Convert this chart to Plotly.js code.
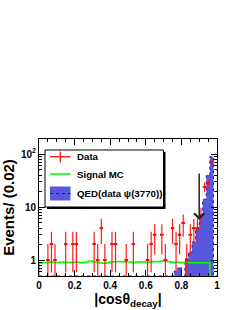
<!DOCTYPE html>
<html>
<head>
<meta charset="utf-8">
<script src="https://cdn.plot.ly/plotly-3.0.1.min.js"></script>
<style>
html,body{margin:0;padding:0;background:#fff;}
#chart{width:240px;height:310px;}
</style>
</head>
<body>
<div id="chart"></div>
<script>
// ---- data ----
const binWidth = 0.02;
// Data (bin centres with entries) and counts
const dataX = [0.05,0.07,0.09,0.15,0.19,0.21,0.31,0.33,0.35,0.37,0.41,0.43,0.49,0.53,0.61,0.63,0.65,0.69,0.71,0.75,0.77,0.79,0.81,0.83,0.85,0.87,0.89,0.91,0.93,0.95,0.97];
const dataY = [1,2,1,2,2,2,2,1,4,1,2,2,1,2,1,2,3,3,1,4,2,3,5,1,3,4,4,7,24,28,69];
// Signal MC histogram: 50 bins from 0 to 1
const signalMC = [0.88,0.9,0.9,0.92,0.9,0.9,0.92,0.9,0.91,0.9,
                  0.92,0.9,0.89,0.92,0.96,0.92,0.9,0.88,0.87,0.9,
                  0.92,0.93,0.94,0.93,0.92,0.92,0.9,0.91,0.93,0.92,
                  0.9,0.92,0.94,0.93,0.95,0.98,0.93,0.91,0.9,0.91,
                  0.9,0.9,0.89,0.89,0.89,0.89,0.89,0.89,0,0];
// QED (data psi(3770)) histogram: 50 bins from 0 to 1
const qedMC = [0,0,0,0,0,0,0,0,0,0,
               0,0,0,0,0,0,0,0,0,0,
               0,0,0,0,0,0,0,0,0,0,
               0,0,0,0,0,0,0,0,0.62,0.72,
               0,1.05,1.4,2.2,3.9,6.5,14,40,89,0];
// cut arrow
const cutX = [0.9];
const arrowY = [46, 5.7];
// tick labels
const yTickVals = [1,10,100];
const yTickText = ['1','10','10<sup>2</sup>'];
const legendLabels = ['Data','Signal MC','QED(data \u03c8(3770))'];

// ---- build ----
const yMin = 0.5;
const nB = signalMC.length;
const edges = [];
for (let i=0;i<=nB;i++) edges.push(+(i*binWidth).toFixed(4));
function stepY(vals){ // clamp zero bins to frame bottom (as ROOT draws them)
  const out = vals.map(v => v>0 ? v : 1e-3);
  out.push(out[out.length-1]);
  return out;
}
function stepYclampBottom(vals){
  const out = vals.map(v => v>yMin ? v : yMin);
  out.push(out[out.length-1]);
  return out;
}
const sigY = [1e-3].concat(stepY(signalMC));
const sigX = [0].concat(edges);

const qedTrace = {
  x: edges, y: stepYclampBottom(qedMC), type:'scatter', mode:'lines',
  line:{shape:'hv', color:'#1a1ab4', width:1, dash:'dot'},
  fill:'tozeroy', fillcolor:'#5858de', hoverinfo:'skip'
};
const sigTrace = {
  x: sigX, y: sigY, type:'scatter', mode:'lines',
  line:{shape:'hv', color:'#00ff00', width:1.5}, hoverinfo:'skip'
};
const dataTrace = {
  x: dataX, y: dataY, type:'scatter', mode:'markers',
  marker:{size:1, color:'rgba(255,0,0,0)'},
  error_x:{type:'constant', value:binWidth/2, color:'#ff0000', thickness:2, width:0},
  error_y:{type:'data', array:dataY.map(v=>Math.sqrt(v)), symmetric:true, color:'#ff1a1a', thickness:1.2, width:0}
};

const L=39, R=23, T=139, B=34, W=240, H=310;
const pw = W-L-R, ph = H-T-B;
const px = v => (v-L)/pw;
const py = v => (H-B-v)/ph;

const bold = {family:'Liberation Sans, Arial, sans-serif', color:'#000', weight:'bold'};
const shapes = [
  // legend shadow and box
  {type:'rect', xref:'paper', yref:'paper', x0:px(47), x1:px(165.5), y0:py(209), y1:py(152), fillcolor:'#000', line:{width:0}},
  {type:'rect', xref:'paper', yref:'paper', x0:px(45), x1:px(163.5), y0:py(207), y1:py(150), fillcolor:'#fff', line:{width:1, color:'#000'}},
  // data cross
  {type:'line', xref:'paper', yref:'paper', x0:px(50), x1:px(70.5), y0:py(156.7), y1:py(156.7), line:{color:'#ff0000', width:1.2}},
  {type:'line', xref:'paper', yref:'paper', x0:px(60.3), x1:px(60.3), y0:py(151.5), y1:py(162.5), line:{color:'#ff0000', width:1.2}},
  // signal MC
  {type:'line', xref:'paper', yref:'paper', x0:px(50), x1:px(70.5), y0:py(174), y1:py(174), line:{color:'#00ff00', width:1.5}},
  // QED box
  {type:'rect', xref:'paper', yref:'paper', x0:px(50), x1:px(70.5), y0:py(200.5), y1:py(186.5), fillcolor:'#5858de', line:{width:0}},
  {type:'line', xref:'paper', yref:'paper', x0:px(50), x1:px(70.5), y0:py(193.5), y1:py(193.5), line:{color:'#1a1ab4', width:1, dash:'dot'}}
];
const legY = [156.7, 174, 193.5];
const annotations = legendLabels.map((t,i)=>({
  xref:'paper', yref:'paper', x:px(74.5), y:py(legY[i]), xanchor:'left', yanchor:'middle',
  text:t, showarrow:false, font:Object.assign({}, bold, {size:9.7})
}));
annotations.push({
  x:cutX[0], y:Math.log10(arrowY[1]), ax:cutX[0], ay:Math.log10(arrowY[0]),
  xref:'x', yref:'y', axref:'x', ayref:'y', text:'', showarrow:true,
  arrowhead:4, arrowsize:1.3, arrowwidth:1.5, arrowcolor:'#222'
});

const layout = {
  width:W, height:H, margin:{l:L, r:R, t:T, b:B, pad:0},
  paper_bgcolor:'#fff', plot_bgcolor:'#fff', showlegend:false,
  xaxis:{range:[0,1], tick0:0, dtick:0.2, ticks:'inside', ticklen:6, tickwidth:1, tickcolor:'#000',
    showline:true, linecolor:'#000', linewidth:1, mirror:'allticks', showgrid:false, zeroline:false,
    minor:{tick0:0, dtick:0.05, ticks:'inside', ticklen:3, tickcolor:'#000', showgrid:false},
    tickfont:Object.assign({}, bold, {size:10}),
    title:{text:'|cos\u03b8<sub>decay</sub>|', font:Object.assign({}, bold, {size:14}), standoff:2}},
  yaxis:{type:'log', range:[Math.log10(yMin), 2.283], tickmode:'array', tickvals:yTickVals, ticktext:yTickText,
    ticks:'inside', ticklen:6, tickwidth:1, tickcolor:'#000',
    showline:true, linecolor:'#000', linewidth:1, mirror:'allticks', showgrid:false, zeroline:false,
    minor:{dtick:'D1', ticks:'inside', ticklen:3, tickcolor:'#000', showgrid:false},
    tickfont:Object.assign({}, bold, {size:10}),
    title:{text:'Events/ (0.02)', font:Object.assign({}, bold, {size:15}), standoff:4}},
  shapes:shapes, annotations:annotations
};
Plotly.newPlot('chart', [qedTrace, sigTrace, dataTrace], layout, {staticPlot:true, displayModeBar:false});
</script>
</body>
</html>
